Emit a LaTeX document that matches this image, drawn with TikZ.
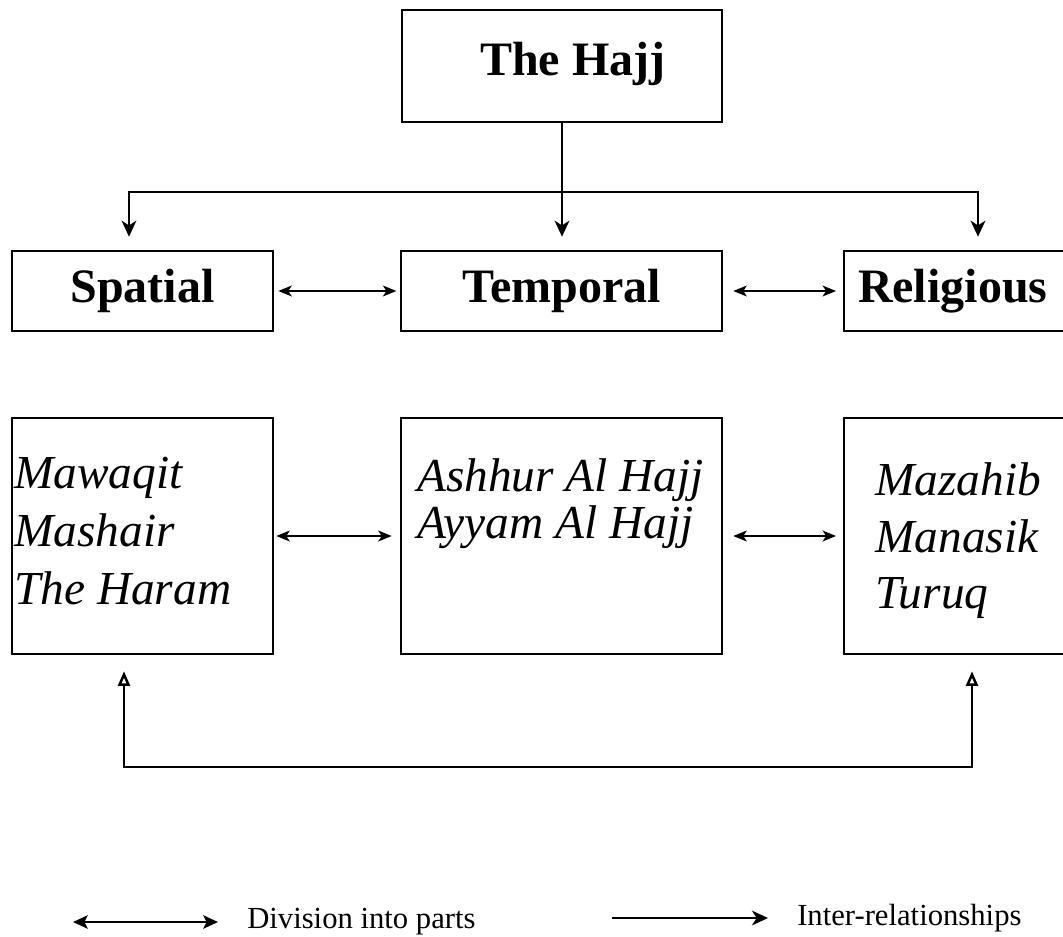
\documentclass[tikz,border=0pt]{standalone}
\usepackage{fontspec}
\setmainfont{Liberation Serif}
\usetikzlibrary{arrows.meta}
\begin{document}
\begin{tikzpicture}[x=0.75pt,y=-0.75pt,
  box/.style={draw, line width=1.9pt, rectangle, inner sep=0pt},
  headbox/.style={box, minimum height=60pt, font=\fontsize{36}{43}\selectfont\bfseries},
  listbox/.style={box, minimum height=177pt},
  itemtext/.style={anchor=base west, inner sep=0pt, font=\fontsize{35.5}{40}\selectfont\itshape},
  keytext/.style={anchor=base west, inner sep=0pt, font=\fontsize{23}{27}\selectfont},
  link/.style={line width=1.9pt},
  twoway/.style={link, {Stealth[length=10pt,width=8pt,inset=2.5pt]}-{Stealth[length=10pt,width=8pt,inset=2.5pt]}},
  branch/.style={link, {Stealth[length=12pt,width=11pt,inset=3.5pt]}-{Stealth[length=12pt,width=11pt,inset=3.5pt]}},
  down/.style={link, -{Stealth[length=12pt,width=11pt,inset=3.5pt]}},
  loop/.style={link, {Triangle[open,length=11pt,width=9pt]}-{Triangle[open,length=11pt,width=9pt]}}]
\useasboundingbox (0,0) rectangle (1063,936);
\clip (0,0) rectangle (1063,936);

% top box
\node[box, minimum width=240pt, minimum height=84pt] (hajj) at (562,66) {};
\node[anchor=base west, inner sep=0pt, font=\fontsize{36}{43}\selectfont\bfseries] (hajjtext) at (480,75) {The Hajj};

% the three aspects
\node[headbox, minimum width=195.75pt] (spatial) at (142.5,291) {Spatial};
\node[headbox, minimum width=240.75pt] (temporal) at (561.5,291) {Temporal};
\node[headbox, text width=163.5pt, inner xsep=10.5pt, align=left] (religious) at (967,291) {Religious};

% their parts
\node[listbox, minimum width=195.75pt] (spaceparts) at (142.5,536) {};
\node[listbox, minimum width=240.75pt] (timeparts) at (561.5,536) {};
\node[listbox, minimum width=184.5pt] (faithparts) at (967,536) {};

\node[itemtext] (mawaqit) at (14,488) {Mawaqit};
\node[itemtext] (mashair) at (14,546) {Mashair};
\node[itemtext] (haram) at (14,604) {The Haram};
\node[itemtext] (ashhur) at (417,491) {Ashhur Al Hajj};
\node[itemtext] (ayyam) at (417,538) {Ayyam Al Hajj};
\node[itemtext] (mazahib) at (875,495) {Mazahib};
\node[itemtext] (manasik) at (875,552) {Manasik};
\node[itemtext] (turuq) at (875,608) {Turuq};

% branching from the top box
\coordinate (lbend) at (129,192);
\coordinate (rbend) at (978,192);
\draw[down, shorten >=9.75pt] (hajj.south) -- (hajj.south |- temporal.north);
\draw[branch, shorten <=9.75pt, shorten >=9.75pt]
  (lbend |- spatial.north) -- (lbend) -- (rbend) -- (rbend |- religious.north);

% links between neighbours
\draw[twoway, shorten <=3pt, shorten >=2.5pt] (spatial.east) -- (temporal.west);
\draw[twoway, shorten <=7.5pt, shorten >=5pt] (temporal.east) -- (religious.west);
\draw[twoway, shorten <=1.5pt, shorten >=6pt] (spaceparts.east) -- (timeparts.west);
\draw[twoway, shorten <=7.5pt, shorten >=5pt] (timeparts.east) -- (faithparts.west);

% link under the lower row
\coordinate (lfoot) at (124,767);
\coordinate (rfoot) at (972,767);
\draw[loop, shorten <=12pt, shorten >=12pt]
  (lfoot |- spaceparts.south) -- (lfoot) -- (rfoot) -- (rfoot |- faithparts.south);

% key
\coordinate (k1a) at (73,922);
\coordinate (k1b) at (218,922);
\coordinate (k2a) at (612,918);
\coordinate (k2b) at (768,918);
\draw[link, {Stealth[length=11pt,width=10pt,inset=2.5pt]}-{Stealth[length=11pt,width=10pt,inset=2.5pt]}] (k1a) -- (k1b);
\draw[link, -{Stealth[length=12pt,width=11pt,inset=3.5pt]}] (k2a) -- (k2b);
\node[keytext] (keyone) at (247,928) {Division into parts};
\node[keytext] (keytwo) at (797,925) {Inter-relationships};
\end{tikzpicture}
\end{document}
